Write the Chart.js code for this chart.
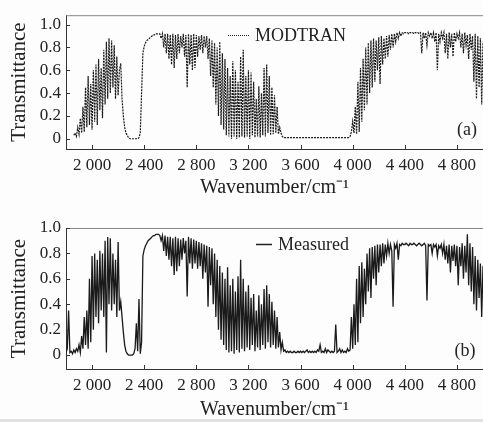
<!DOCTYPE html>
<html>
<head>
<meta charset="utf-8">
<script src="https://cdn.jsdelivr.net/npm/chart.js@4"></script>
<style>
  html, body { margin: 0; padding: 0; background: #fdfdfd; overflow: hidden; }
  .panel { position: absolute; left: 0; }
  #panelA { top: 0; }
  #panelB { top: 200px; }
  #foot { position: absolute; left: 0; top: 419px; width: 483px; height: 3px; background: #e2e2e2; }
</style>
</head>
<body>
<div class="panel" id="panelA"><canvas id="chartA" width="483" height="200"></canvas></div>
<div class="panel" id="panelB"><canvas id="chartB" width="483" height="222"></canvas></div>
<div id="foot"></div>
<script>
// wavenumber grid of the read-off values (cm-1)
const waveStart = 1800;
const waveStep = 10;

const xTicks = [2000, 2400, 2800, 3200, 3600, 4000, 4400, 4800];
const xTickLabels = ['2 000', '2 400', '2 800', '3 200', '3 600', '4 000', '4 400', '4 800'];
const yTicks = [0, 0.2, 0.4, 0.6, 0.8, 1.0];
const yTickLabels = ['0', '0.2', '0.4', '0.6', '0.8', '1.0'];

// (a) MODTRAN simulated transmittance, 1800..5000 step 10
const modtran = [
  null,null,null,null,null,null,0.03,0.05,0.02,0.1,0.04,0.18,0.05,0.28,0.06,0.45,0.1,0.55,0.12,0.48,
  0.08,0.6,0.15,0.65,0.12,0.7,0.25,0.62,0.18,0.78,0.3,0.85,0.35,0.88,0.4,0.86,0.45,0.82,0.35,0.72,
  0.38,0.6,0.66,0.35,0.2,0.1,0.05,0.03,0.01,0,0,0,0,0,0,0,0.01,0.05,0.4,0.75,
  0.81,0.84,0.86,0.87,0.88,0.89,0.9,0.91,0.91,0.92,0.92,0.92,0.92,0.88,0.92,0.8,0.92,0.75,0.92,0.7,
  0.91,0.65,0.92,0.62,0.91,0.7,0.92,0.75,0.9,0.8,0.92,0.72,0.91,0.45,0.92,0.65,0.91,0.6,0.92,0.62,
  0.91,0.72,0.9,0.78,0.91,0.75,0.9,0.8,0.9,0.7,0.88,0.55,0.86,0.45,0.84,0.3,0.8,0.2,0.85,0.12,
  0.75,0.08,0.7,0.03,0.62,0.02,0.55,0,0.68,0.02,0.6,0,0.5,0.01,0.72,0.02,0.78,0.01,0.55,0.02,
  0.6,0,0.58,0.03,0.5,0.01,0.35,0.02,0.46,0.01,0.4,0.03,0.62,0.02,0.65,0.05,0.55,0.03,0.45,0.04,
  0.38,0.05,0.28,0.04,0.1,0.05,0.02,0.01,0.01,0.01,0.01,0.01,0.01,0.01,0.01,0.01,0.01,0.01,0.01,0.01,
  0.01,0.01,0.01,0.01,0.01,0.01,0.01,0.01,0.01,0.01,0.01,0.01,0.01,0.01,0.01,0.01,0.01,0.01,0.01,0.01,
  0.01,0.01,0.01,0.01,0.01,0.01,0.01,0.01,0.01,0.01,0.01,0.01,0.01,0.01,0.01,0.01,0.01,0.01,0.02,0.06,
  0.15,0.05,0.28,0.04,0.5,0.06,0.62,0.15,0.7,0.25,0.8,0.3,0.84,0.4,0.86,0.45,0.88,0.5,0.86,0.6,
  0.89,0.48,0.9,0.65,0.88,0.7,0.9,0.72,0.91,0.78,0.92,0.8,0.92,0.85,0.93,0.88,0.93,0.9,0.93,0.92,
  0.93,0.93,0.93,0.92,0.93,0.93,0.93,0.92,0.93,0.93,0.93,0.92,0.93,0.75,0.93,0.88,0.93,0.82,0.93,0.9,
  0.93,0.88,0.93,0.85,0.93,0.6,0.92,0.85,0.93,0.88,0.93,0.75,0.92,0.7,0.93,0.8,0.92,0.72,0.93,0.85,
  0.92,0.88,0.93,0.8,0.92,0.75,0.93,0.82,0.91,0.7,0.92,0.78,0.9,0.5,0.92,0.35,0.9,0.45,0.88,0.3,
  0.85
];

// (b) measured transmittance, same grid
const measured = [
  0.02,0.05,0.35,0.02,0.03,0.01,0.04,0.02,0.05,0.03,0.08,0.02,0.15,0.05,0.3,0.08,0.35,0.05,0.6,0.1,
  0.78,0.2,0.8,0.3,0.75,0.25,0.82,0.35,0.8,0.3,0.9,0.02,0.93,0.4,0.92,0.35,0.8,0.4,0.75,0.3,
  0.89,0.35,0.42,0.3,0.18,0.08,0.03,0.01,0,0,0,0,0.01,0.05,0.25,0.03,0.44,0.01,0.1,0.78,
  0.83,0.86,0.88,0.9,0.91,0.92,0.93,0.94,0.94,0.95,0.95,0.95,0.94,0.9,0.94,0.82,0.94,0.78,0.93,0.75,
  0.93,0.7,0.92,0.63,0.93,0.66,0.92,0.7,0.91,0.75,0.92,0.8,0.9,0.46,0.93,0.72,0.92,0.68,0.91,0.72,
  0.9,0.68,0.89,0.7,0.88,0.6,0.87,0.65,0.86,0.38,0.85,0.55,0.84,0.4,0.8,0.3,0.75,0.2,0.7,0.12,
  0.65,0.08,0.6,0.04,0.69,0.02,0.55,0.03,0.6,0.01,0.5,0.04,0.62,0.02,0.75,0.05,0.6,0.03,0.5,0.06,
  0.55,0.04,0.45,0.08,0.48,0.03,0.35,0.06,0.47,0.04,0.4,0.08,0.52,0.05,0.55,0.1,0.48,0.06,0.42,0.08,
  0.35,0.05,0.3,0.06,0.18,0.04,0.1,0.03,0.04,0.02,0.03,0.02,0.03,0.02,0.02,0.03,0.02,0.02,0.03,0.02,
  0.03,0.02,0.03,0.02,0.03,0.04,0.02,0.03,0.02,0.03,0.02,0.03,0.02,0.04,0.03,0.08,0.02,0.03,0.02,0.05,
  0.02,0.04,0.03,0.02,0.03,0.02,0.03,0.24,0.02,0.03,0.05,0.02,0.04,0.02,0.03,0.02,0.05,0.03,0.04,0.3,
  0.05,0.4,0.08,0.6,0.1,0.7,0.25,0.73,0.3,0.68,0.4,0.8,0.5,0.84,0.45,0.85,0.6,0.86,0.55,0.87,
  0.65,0.87,0.7,0.88,0.72,0.87,0.78,0.88,0.8,0.87,0.82,0.38,0.87,0.84,0.88,0.75,0.87,0.86,0.88,0.87,
  0.87,0.88,0.87,0.86,0.88,0.87,0.87,0.88,0.87,0.86,0.87,0.88,0.87,0.86,0.87,0.88,0.86,0.43,0.87,0.86,
  0.87,0.8,0.87,0.85,0.87,0.78,0.86,0.84,0.87,0.8,0.87,0.75,0.86,0.72,0.87,0.65,0.86,0.74,0.87,0.7,
  0.86,0.55,0.85,0.7,0.88,0.6,0.86,0.65,0.95,0.55,0.88,0.5,0.85,0.4,0.78,0.35,0.75,0.45,0.72,0.3,
  0.7
];

const serif = '"Liberation Serif", "Times New Roman", serif';
Chart.defaults.font.family = serif;
Chart.defaults.color = '#222';

function toPoints(values) {
  return values.map((v, i) => ({ x: waveStart + i * waveStep, y: v }));
}

// frame top line, inward tick marks, legend and panel letter
const decor = {
  id: 'decor',
  afterDraw(chart, args, opts) {
    const ctx = chart.ctx;
    const area = chart.chartArea;
    const xs = chart.scales.x, ys = chart.scales.y;
    ctx.save();
    ctx.strokeStyle = '#888';
    ctx.lineWidth = 1;
    ctx.beginPath();
    ctx.moveTo(area.left, area.top + 0.5);
    ctx.lineTo(area.right, area.top + 0.5);
    ctx.stroke();

    ctx.strokeStyle = '#333';
    ctx.beginPath();
    xTicks.forEach(v => {
      const px = Math.round(xs.getPixelForValue(v)) + 0.5;
      ctx.moveTo(px, area.bottom);
      ctx.lineTo(px, area.bottom - 4);
    });
    yTicks.forEach(v => {
      const py = Math.round(ys.getPixelForValue(v)) + 0.5;
      ctx.moveTo(area.left, py);
      ctx.lineTo(area.left + 4, py);
    });
    ctx.stroke();

    // legend
    const ds = chart.data.datasets[0];
    ctx.strokeStyle = '#222';
    ctx.lineWidth = opts.dash.length ? 1 : 1.5;
    ctx.setLineDash(opts.dash);
    ctx.beginPath();
    ctx.moveTo(opts.legendX, opts.legendY + 0.5);
    ctx.lineTo(opts.legendX + opts.sampleLen, opts.legendY + 0.5);
    ctx.stroke();
    ctx.setLineDash([]);
    ctx.fillStyle = '#222';
    ctx.font = '18px ' + serif;
    ctx.textBaseline = 'middle';
    ctx.textAlign = 'left';
    ctx.fillText(ds.label, opts.legendX + opts.sampleLen + 6, opts.legendY + 1);

    ctx.textAlign = 'center';
    ctx.fillText(opts.letter, opts.letterX, opts.letterY);
    ctx.restore();
  }
};

function makeChart(id, label, values, dash, width, yMin, yMax, pad, xHeight, decorOpts) {
  return new Chart(document.getElementById(id), {
    type: 'line',
    data: {
      datasets: [{
        label: label,
        data: toPoints(values),
        borderColor: '#1a1a1a',
        borderWidth: width,
        borderDash: dash,
        pointRadius: 0,
        tension: 0,
        spanGaps: false
      }]
    },
    options: {
      responsive: false,
      animation: false,
      layout: { padding: { top: pad, left: 0, right: 0, bottom: 0 } },
      plugins: {
        legend: { display: false },
        tooltip: { enabled: false },
        decor: decorOpts
      },
      scales: {
        x: {
          type: 'linear',
          min: 1800,
          max: 5000,
          afterBuildTicks: s => { s.ticks = xTicks.map(v => ({ value: v })); },
          afterFit: s => { s.height = xHeight; },
          grid: { display: false, drawTicks: false },
          border: { display: true, color: '#333', width: 1 },
          ticks: {
            autoSkip: false,
            maxRotation: 0,
            padding: 6,
            color: '#222',
            font: { size: 17 },
            callback: (v, i) => xTickLabels[i]
          },
          title: {
            display: true,
            text: 'Wavenumber/cm⁻¹',
            color: '#222',
            font: { size: 20 },
            padding: { top: 0, bottom: 0 }
          }
        },
        y: {
          min: yMin,
          max: yMax,
          afterBuildTicks: s => { s.ticks = yTicks.map(v => ({ value: v })); },
          afterFit: s => { s.width = 66; },
          grid: { display: false, drawTicks: false },
          border: { display: true, color: '#333', width: 1 },
          ticks: {
            autoSkip: false,
            padding: 5,
            color: '#222',
            font: { size: 17 },
            callback: (v, i) => yTickLabels[i]
          },
          title: {
            display: true,
            text: 'Transmittance',
            color: '#222',
            font: { size: 21 },
            padding: { top: 7, bottom: 0 }
          }
        }
      }
    },
    plugins: [decor]
  });
}

makeChart('chartA', 'MODTRAN', modtran, [2, 1], 1.2, -0.09, 1.083, 7, 51,
  { dash: [1, 1], legendX: 228, legendY: 35, sampleLen: 21, letter: '(a)', letterX: 467, letterY: 130 });
makeChart('chartB', 'Measured', measured, [], 1.3, -0.11, 1.0, 28, 53,
  { dash: [], legendX: 256, legendY: 44, sampleLen: 16, letter: '(b)', letterX: 465, letterY: 151 });
</script>
</body>
</html>
